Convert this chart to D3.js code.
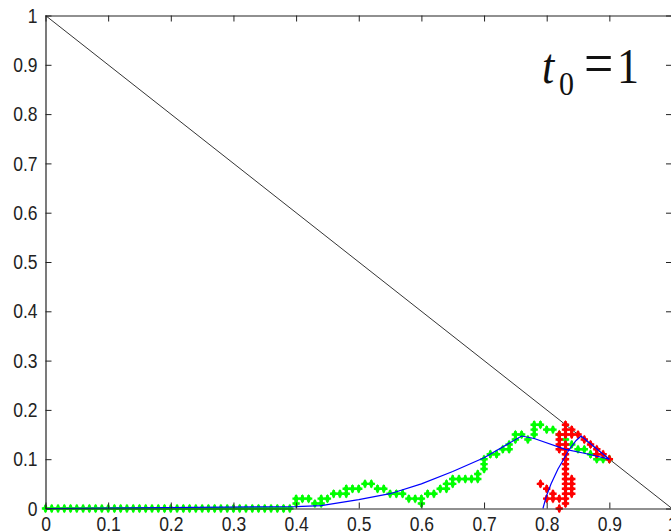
<!DOCTYPE html>
<html>
<head>
<meta charset="utf-8">
<script src="https://cdn.jsdelivr.net/npm/d3@7"></script>
<style>
  body { margin: 0; background: #fff; }
  svg { display: block; }
</style>
</head>
<body>
<svg></svg>
<script>
// tick labels
let tickValues = [0, 0.1, 0.2, 0.3, 0.4, 0.5, 0.6, 0.7, 0.8, 0.9, 1];
let tickLabels = ['0', '0.1', '0.2', '0.3', '0.4', '0.5', '0.6', '0.7', '0.8', '0.9', '1'];

// green markers
let greenX = [0, 0.01, 0.02, 0.03, 0.04, 0.05, 0.06, 0.07, 0.08, 0.09,
  0.10, 0.11, 0.12, 0.13, 0.14, 0.15, 0.16, 0.17, 0.18, 0.19,
  0.20, 0.21, 0.22, 0.23, 0.24, 0.25, 0.26, 0.27, 0.28, 0.29,
  0.30, 0.31, 0.32, 0.33, 0.34, 0.35, 0.36, 0.37, 0.38, 0.39,
  0.40, 0.40, 0.41, 0.42, 0.43, 0.44, 0.44, 0.45, 0.46, 0.47, 0.48, 0.48, 0.49,
  0.50, 0.51, 0.52, 0.53, 0.54, 0.55, 0.56, 0.57, 0.58, 0.59, 0.60, 0.60,
  0.61, 0.62, 0.63, 0.64, 0.64, 0.65, 0.65, 0.66, 0.67, 0.68, 0.69, 0.69,
  0.70, 0.70, 0.70, 0.71, 0.72, 0.73, 0.74, 0.74, 0.75, 0.75, 0.76, 0.77,
  0.78, 0.78, 0.78, 0.79, 0.80, 0.81, 0.82, 0.83, 0.84, 0.85, 0.86, 0.87,
  0.88, 0.89, 0.90];
let greenY = [0, 0, 0, 0, 0, 0, 0, 0, 0, 0,
  0, 0, 0, 0, 0, 0, 0, 0, 0, 0,
  0, 0, 0, 0, 0, 0, 0, 0, 0, 0,
  0, 0, 0, 0, 0, 0, 0, 0, 0, 0,
  0.01, 0.02, 0.02, 0.02, 0.01, 0.01, 0.02, 0.02, 0.03, 0.03, 0.03, 0.04, 0.04,
  0.04, 0.05, 0.05, 0.04, 0.04, 0.03, 0.03, 0.03, 0.02, 0.02, 0.01, 0.02,
  0.03, 0.03, 0.04, 0.04, 0.05, 0.05, 0.06, 0.06, 0.06, 0.06, 0.06, 0.07,
  0.08, 0.09, 0.10, 0.11, 0.11, 0.12, 0.12, 0.13, 0.14, 0.15, 0.15, 0.14,
  0.15, 0.16, 0.17, 0.17, 0.16, 0.16, 0.15, 0.14, 0.13, 0.12, 0.12, 0.11,
  0.10, 0.10, 0.10];

// red markers
let redX = [0.79, 0.80, 0.81, 0.80, 0.81, 0.82, 0.82, 0.83, 0.83, 0.83, 0.83, 0.83,
  0.83, 0.83, 0.83, 0.83, 0.83, 0.83, 0.84, 0.84, 0.84, 0.84, 0.83, 0.83,
  0.82, 0.82, 0.82, 0.82, 0.83, 0.83, 0.83, 0.84, 0.84, 0.85, 0.86, 0.87,
  0.88, 0.88, 0.89, 0.90];
let redY = [0.05, 0.04, 0.03, 0.02, 0.02, 0.02, 0.00, 0.01, 0.02, 0.03, 0.04, 0.05,
  0.06, 0.07, 0.08, 0.09, 0.10, 0.11, 0.03, 0.04, 0.05, 0.06, 0.12, 0.13,
  0.12, 0.13, 0.14, 0.15, 0.15, 0.16, 0.17, 0.16, 0.15, 0.15, 0.14, 0.13,
  0.12, 0.11, 0.11, 0.10];

// blue curves
let blue1X = [0, 0.40, 0.44, 0.50, 0.55, 0.60, 0.65, 0.70, 0.76, 0.78, 0.83, 0.86, 0.90];
let blue1Y = [0, 0.004, 0.006, 0.018, 0.03, 0.05, 0.075, 0.103, 0.147, 0.142, 0.12, 0.112, 0.10];
let blue2X = [0.794, 0.799, 0.807, 0.818, 0.829, 0.835, 0.847, 0.855, 0.90];
let blue2Y = [0, 0.023, 0.05, 0.08, 0.104, 0.118, 0.138, 0.147, 0.10];

// diagonal
let diagX = [0, 1];
let diagY = [1, 0];

let width = 671;
let height = 532;

let svg = d3.select('svg')
  .attr('width', width)
  .attr('height', height);

let xScale = d3.scaleLinear().domain([0, 1]).range([45.5, 672]);
let yScale = d3.scaleLinear().domain([0, 1]).range([508.5, 15.5]);

let line = d3.line()
  .x((d) => xScale(d[0]))
  .y((d) => yScale(d[1]));

// diagonal line
svg.append('path')
  .datum(d3.zip(diagX, diagY))
  .attr('d', line)
  .attr('fill', 'none')
  .attr('stroke', '#000')
  .attr('stroke-width', 0.8);

// markers
let marker = d3.symbol().type(d3.symbolCross).size(30);
let marker2 = d3.symbol().type(d3.symbolDiamond).size(26);

let drawMarkers = (xs, ys, color) => {
  let g = svg.append('g');
  let pts = d3.zip(xs, ys);
  g.selectAll('path.c')
    .data(pts)
    .enter()
    .append('path')
    .attr('d', marker)
    .attr('fill', color)
    .attr('transform', (d) => 'translate(' + xScale(d[0]) + ',' + yScale(d[1]) + ')');
  g.selectAll('path.d')
    .data(pts)
    .enter()
    .append('path')
    .attr('d', marker2)
    .attr('fill', color)
    .attr('transform', (d) => 'translate(' + xScale(d[0]) + ',' + yScale(d[1]) + ')');
}

drawMarkers(greenX, greenY, '#00ff00');
drawMarkers(redX, redY, '#ff0000');

// blue lines
[[blue1X, blue1Y], [blue2X, blue2Y]].forEach((s) => {
  svg.append('path')
    .datum(d3.zip(s[0], s[1]))
    .attr('d', line)
    .attr('fill', 'none')
    .attr('stroke', '#0000ff')
    .attr('stroke-width', 1.2);
});

// axes (box with inward ticks)
let fmt = (d, i) => tickLabels[i];

let xAxis = d3.axisBottom(xScale).tickValues(tickValues).tickFormat(fmt)
  .tickSizeInner(-6).tickSizeOuter(0).tickPadding(7);
let yAxis = d3.axisLeft(yScale).tickValues(tickValues).tickFormat(fmt)
  .tickSizeInner(-6).tickSizeOuter(0).tickPadding(8);
let xTop = d3.axisTop(xScale).tickValues(tickValues).tickFormat('')
  .tickSizeInner(-6).tickSizeOuter(0);
let yRight = d3.axisRight(yScale).tickValues(tickValues).tickFormat('')
  .tickSizeInner(-6).tickSizeOuter(0);

let gx = svg.append('g').attr('transform', 'translate(0,' + yScale(0) + ')').call(xAxis);
let gy = svg.append('g').attr('transform', 'translate(' + xScale(0) + ',0)').call(yAxis);
svg.append('g').attr('transform', 'translate(0,' + yScale(1) + ')').call(xTop);
svg.append('g').attr('transform', 'translate(' + xScale(1) + ',0)').call(yRight);

svg.selectAll('.domain').attr('stroke', '#222').attr('stroke-width', 1.2);
svg.selectAll('.tick line').attr('stroke', '#222');
svg.selectAll('.tick text')
  .attr('font-family', 'Liberation Sans, Arial, sans-serif')
  .attr('font-size', 17.5)
  .attr('fill', '#222')
  .attr('transform', 'scale(1,1.18)');

// t0 = 1 label
let title = svg.append('text')
  .attr('font-family', 'Liberation Serif, Times New Roman, serif')
  .attr('fill', '#111')
  .attr('transform', 'translate(0,83) scale(1,1.15)');
title.append('tspan').attr('x', 542).attr('y', 0).attr('font-style', 'italic').attr('font-size', 44).text('t');
title.append('tspan').attr('x', 559).attr('y', 10).attr('font-size', 30).text('0');
title.append('tspan').attr('x', 584).attr('y', 0).attr('font-size', 52).text('=');
title.append('tspan').attr('x', 617).attr('y', 0).attr('font-size', 44).text('1');
</script>
</body>
</html>
